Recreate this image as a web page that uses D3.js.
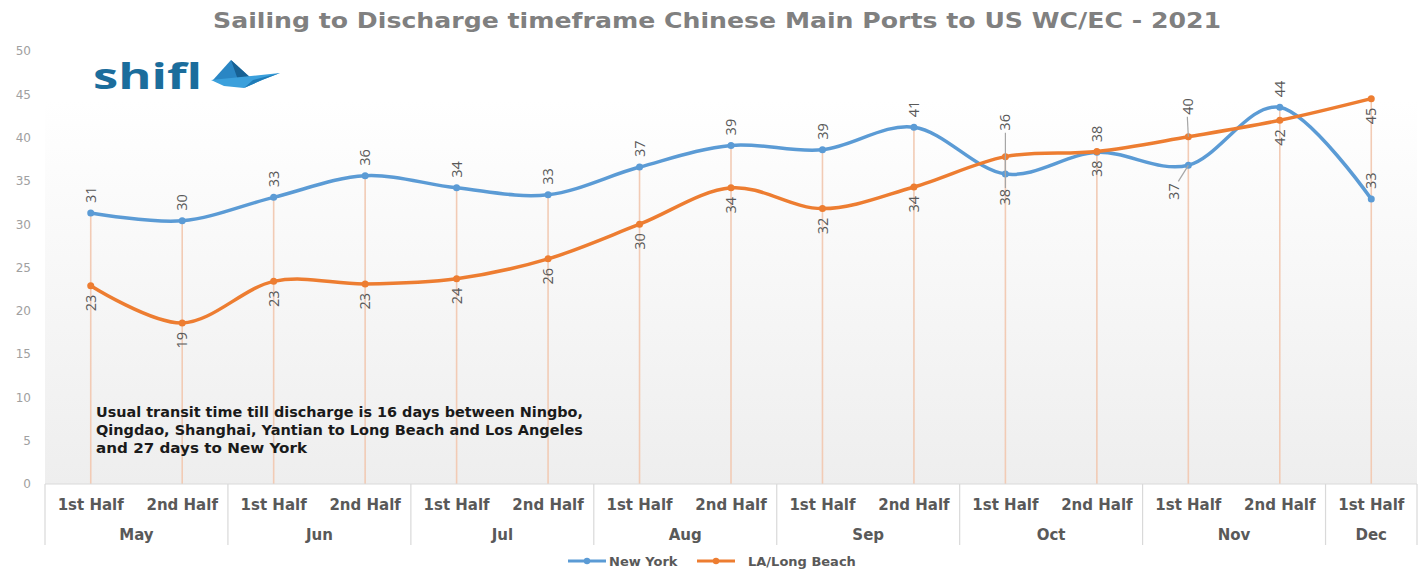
<!DOCTYPE html>
<html>
<head>
<meta charset="utf-8">
<script src="https://cdn.jsdelivr.net/npm/d3@7"></script>
<style>
  body { margin: 0; background: #fff; }
  svg { display: block; }
</style>
</head>
<body>
<svg id="chart" width="1424" height="571"></svg>
<script>
// data
var periods = ["1st Half", "2nd Half", "1st Half", "2nd Half", "1st Half", "2nd Half",
               "1st Half", "2nd Half", "1st Half", "2nd Half", "1st Half", "2nd Half",
               "1st Half", "2nd Half", "1st Half"];
var months = ["May", "Jun", "Jul", "Aug", "Sep", "Oct", "Nov", "Dec"];
var monthSpans = [2, 2, 2, 2, 2, 2, 2, 1];
var newYork = [31.3, 30.4, 33.1, 35.6, 34.2, 33.4, 36.6, 39.1, 38.6, 41.2, 35.8, 38.3, 36.8, 43.5, 32.9];
var laLongBeach = [22.9, 18.6, 23.4, 23.1, 23.7, 26.0, 30.0, 34.2, 31.8, 34.3, 37.8, 38.4, 40.1, 42.0, 44.5];
var yTicks = [0, 5, 10, 15, 20, 25, 30, 35, 40, 45, 50];
var seriesNames = ["New York", "LA/Long Beach"];
var noteLines = ["Usual transit time till discharge is 16 days between Ningbo,",
                 "Qingdao, Shanghai, Yantian to Long Beach and Los Angeles",
                 "and 27 days to New York"];
var title = "Sailing to Discharge timeframe Chinese Main Ports to US WC/EC - 2021";

var blue = "#5b9bd5", orange = "#ed7d31";
var svg = d3.select("#chart");

var x = d3.scaleBand().domain(d3.range(periods.length)).range([45, 1417]);
var y = d3.scaleLinear().domain([0, 50]).range([484, 51]);
var cx = function(i){ return x(i) + x.bandwidth() / 2; };

//Plot background gradient.
var grad = svg.append("defs").append("linearGradient")
	.attr("id", "bg").attr("x1", 0).attr("y1", 0).attr("x2", 0).attr("y2", 1);
grad.append("stop").attr("offset", "0%").attr("stop-color", "#ffffff");
grad.append("stop").attr("offset", "100%").attr("stop-color", "#eeeeee");

svg.append("rect")
	.attr("x", x.range()[0]).attr("y", 100)
	.attr("width", x.range()[1] - x.range()[0]).attr("height", y(0) - 100)
	.attr("fill", "url(#bg)");

//Title.
svg.append("text")
	.attr("x", 213).attr("y", 28)
	.attr("textLength", 1008).attr("lengthAdjust", "spacingAndGlyphs")
	.attr("font-family", "DejaVu Sans").attr("font-weight", "bold")
	.attr("font-size", 22).attr("fill", "#808080")
	.text(title);

//Y axis.
var yAxis = svg.append("g")
	.attr("transform", "translate(31,0)")
	.call(d3.axisLeft(y).tickValues(yTicks).tickSize(0).tickPadding(0));
yAxis.select(".domain").remove();
yAxis.selectAll("text")
	.attr("font-family", "DejaVu Sans").attr("font-size", 12).attr("fill", "#a0a0a0");

//Drop lines from the higher point down to the axis.
svg.append("g").selectAll("line")
	.data(periods)
	.enter().append("line")
	.attr("x1", function(d, i){ return cx(i); })
	.attr("x2", function(d, i){ return cx(i); })
	.attr("y1", function(d, i){ return y(Math.max(newYork[i], laLongBeach[i])); })
	.attr("y2", y(0))
	.attr("stroke", "#f2cbb5").attr("stroke-width", 1.6);

//Category axis.
var axisG = svg.append("g");
axisG.append("line")
	.attr("x1", x.range()[0]).attr("x2", x.range()[1])
	.attr("y1", y(0)).attr("y2", y(0))
	.attr("stroke", "#d9d9d9").attr("stroke-width", 1.2);

var bounds = [0];
monthSpans.forEach(function(s){ bounds.push(bounds[bounds.length - 1] + s); });
axisG.selectAll(".sep")
	.data(bounds)
	.enter().append("line")
	.attr("x1", function(b){ return b < periods.length ? x(b) : x.range()[1]; })
	.attr("x2", function(b){ return b < periods.length ? x(b) : x.range()[1]; })
	.attr("y1", y(0)).attr("y2", 545)
	.attr("stroke", "#d9d9d9").attr("stroke-width", 1.2);

axisG.selectAll(".period")
	.data(periods)
	.enter().append("text")
	.attr("x", function(d, i){ return cx(i); })
	.attr("y", 510)
	.attr("text-anchor", "middle")
	.attr("font-family", "DejaVu Sans").attr("font-weight", "bold")
	.attr("font-size", 15).attr("fill", "#595959")
	.text(function(d){ return d; });

axisG.selectAll(".month")
	.data(months)
	.enter().append("text")
	.attr("x", function(d, i){
		var a = bounds[i], b = bounds[i + 1];
		return (x(a) + (b < periods.length ? x(b) : x.range()[1])) / 2;
	})
	.attr("y", 540)
	.attr("text-anchor", "middle")
	.attr("font-family", "DejaVu Sans").attr("font-weight", "bold")
	.attr("font-size", 15).attr("fill", "#595959")
	.text(function(d){ return d; });

//Lines and markers.
var line = d3.line()
	.x(function(d, i){ return cx(i); })
	.y(function(d){ return y(d); })
	.curve(d3.curveCardinal.tension(0));

[[newYork, blue], [laLongBeach, orange]].forEach(function(s){
	svg.append("path")
		.attr("d", line(s[0]))
		.attr("fill", "none")
		.attr("stroke", s[1]).attr("stroke-width", 3.5);
	svg.append("g").selectAll("circle")
		.data(s[0])
		.enter().append("circle")
		.attr("cx", function(d, i){ return cx(i); })
		.attr("cy", function(d){ return y(d); })
		.attr("r", 3.5)
		.attr("fill", s[1]);
});

//Data labels. Blue above, orange below; two spots were dragged out with leader lines.
function label(i, val, ly, dir, lx){
	var xx = lx === undefined ? cx(i) : lx;
	svg.append("text")
		.attr("transform", "translate(" + xx + "," + ly + ") rotate(-90)")
		.attr("text-anchor", dir === "up" ? "start" : "end")
		.attr("dy", "0.35em")
		.attr("font-family", "Open Sans").attr("font-size", 14.5).attr("fill", "#595959")
		.text(Math.round(val));
}
function leader(x1, y1, x2, y2){
	svg.append("line")
		.attr("x1", x1).attr("y1", y1).attr("x2", x2).attr("y2", y2)
		.attr("stroke", "#a6a6a6").attr("stroke-width", 1.2);
}

periods.forEach(function(p, i){
	var ny = y(newYork[i]), la = y(laLongBeach[i]);
	if(i === 10){
		var top = Math.min(ny, la), bot = Math.max(ny, la);
		label(i, newYork[i], top - 26, "up");
		leader(cx(i), top - 24, cx(i), ny);
		label(i, laLongBeach[i], bot + 15, "down");
		leader(cx(i), la, cx(i), bot + 14);
	} else if(i === 12){
		label(i, laLongBeach[i], la - 22, "up");
		leader(cx(i) - 1, la - 20, cx(i), la);
		label(i, newYork[i], ny + 18, "down", cx(i) - 14);
		leader(cx(i) - 10, ny + 16, cx(i), ny);
	} else {
		label(i, newYork[i], ny - 10, "up");
		label(i, laLongBeach[i], la + 9, "down");
	}
});

//Note text.
svg.append("g").selectAll("text")
	.data(noteLines)
	.enter().append("text")
	.attr("x", 96)
	.attr("y", function(d, i){ return 417 + i * 17.8; })
	.attr("font-family", "DejaVu Sans").attr("font-weight", "bold")
	.attr("font-size", 13.5).attr("fill", "#1a1a1a")
	.attr("textLength", function(d, i){ return [487, 487, 211][i]; })
	.attr("lengthAdjust", "spacingAndGlyphs")
	.text(function(d){ return d; });

//Logo.
var logo = svg.append("g");
logo.append("text")
	.attr("x", 93).attr("y", 89)
	.attr("textLength", 109).attr("lengthAdjust", "spacingAndGlyphs")
	.attr("font-family", "Open Sans").attr("font-weight", "bold")
	.attr("font-size", 35).attr("fill", "#1b6d9c")
	.text("shifl");
logo.append("polygon").attr("points", "231,60 253,80 213,80").attr("fill", "#2a86c4");
logo.append("polygon").attr("points", "231,60 253,80 238,80").attr("fill", "#176194");
logo.append("polygon").attr("points", "211,80 280,73 262,80 244,88 224,86").attr("fill", "#3ba0dc");
logo.append("polygon").attr("points", "253,80 280,73 262,80 244,88").attr("fill", "#1f7bb7");

//Legend.
var legend = svg.append("g");
[[568, 609, blue], [697, 748, orange]].forEach(function(l, k){
	legend.append("line")
		.attr("x1", l[0]).attr("x2", l[0] + 38)
		.attr("y1", 561).attr("y2", 561)
		.attr("stroke", l[2]).attr("stroke-width", 3);
	legend.append("circle")
		.attr("cx", l[0] + 19).attr("cy", 561).attr("r", 3.2)
		.attr("fill", l[2]);
	legend.append("text")
		.attr("x", l[1]).attr("y", 566)
		.attr("font-family", "DejaVu Sans").attr("font-weight", "bold")
		.attr("font-size", 13).attr("fill", "#595959")
		.text(seriesNames[k]);
});
</script>
</body>
</html>
